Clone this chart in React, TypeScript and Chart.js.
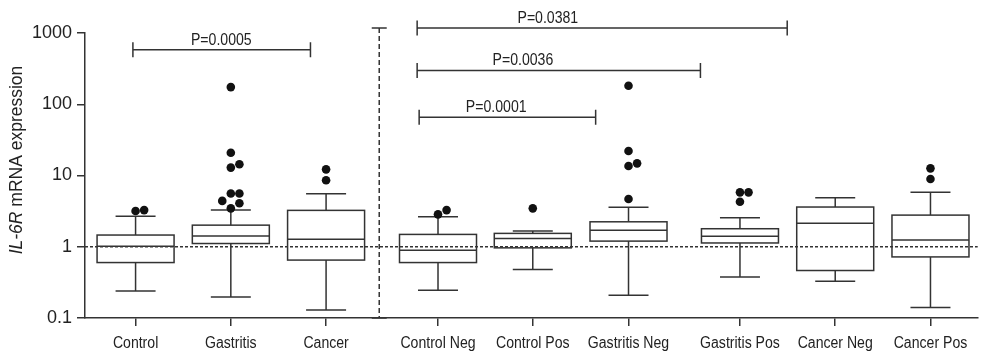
import React, { useEffect, useRef } from 'react';
import { Chart, registerables } from 'chart.js';

Chart.register(...registerables);

// ---- data ----
const categories = [
  'Control', 'Gastritis', 'Cancer',
  'Control Neg', 'Control Pos', 'Gastritis Neg', 'Gastritis Pos', 'Cancer Neg', 'Cancer Pos',
];
const categoryPositions = [1, 2, 3, 4.175, 5.17, 6.175, 7.345, 8.345, 9.345];
const whiskerLow = [0.24, 0.197, 0.13, 0.245, 0.48, 0.209, 0.377, 0.328, 0.14];
const quartile1 = [0.6, 1.11, 0.65, 0.6, 0.965, 1.2, 1.13, 0.464, 0.72];
const medians = [1.02, 1.41, 1.27, 0.896, 1.31, 1.71, 1.4, 2.13, 1.24];
const quartile3 = [1.46, 2.01, 3.24, 1.49, 1.54, 2.24, 1.79, 3.61, 2.78];
const whiskerHigh = [2.69, 3.27, 5.55, 2.63, 1.67, 3.57, 2.55, 4.87, 5.8];
const outliers = [
  [3.17, 3.27],
  [3.46, 4.07, 4.4, 5.6, 5.6, 12.9, 14.4, 20.9, 174],
  [8.56, 12.2],
  [2.85, 3.27],
  [3.46],
  [4.67, 13.6, 14.8, 22.1, 181.5],
  [4.28, 5.8, 5.8],
  [],
  [8.93, 12.6],
];
const yTickValues = [0.1, 1, 10, 100, 1000];
const referenceLevel = 1;
const separatorAt = 3.558;
const separatorTop = 1175;

const pLabels = ['P=0.0005', 'P=0.0001', 'P=0.0036', 'P=0.0381'];
const pFrom = [0.972, 3.977, 3.956, 3.956];
const pTo = [2.836, 5.83, 6.93, 7.841];
const pLevel = [582, 65.9, 298, 1175];
const pTextAt = [1.9, 4.786, 5.066, 5.328];

// ---- style ----
const FONT = "'Liberation Sans', Arial, Helvetica, sans-serif";
const INK = '#333333';
const TEXT = '#222222';
const BOX_W = 77;
const CAP_W = 40;
const DODGE_STEP = 0.09;
const DODGE_LOG = 0.1125;
const CONDENSE = 0.88;

function dodge(values: number[], pos: number) {
  const placed: { k: number; lv: number }[] = [];
  const out: { x: number; y: number }[] = [];
  [...values].sort((a, b) => a - b).forEach((v) => {
    const lv = Math.log10(v);
    for (const k of [0, 1, -1, 2, -2]) {
      if (!placed.some((p) => p.k === k && Math.abs(p.lv - lv) < DODGE_LOG)) {
        placed.push({ k, lv });
        out.push({ x: pos + k * DODGE_STEP, y: v });
        break;
      }
    }
  });
  return out;
}

function condensedText(ctx: CanvasRenderingContext2D, text: string, cx: number, baseline: number) {
  ctx.save();
  ctx.translate(cx, baseline);
  ctx.scale(CONDENSE, 1);
  ctx.textAlign = 'center';
  ctx.textBaseline = 'alphabetic';
  ctx.fillText(text, 0, 0);
  ctx.restore();
}

const boxPlugin = {
  id: 'boxPlot',
  beforeDatasetsDraw(chart: any) {
    const { ctx, chartArea, scales } = chart;
    const x = scales.x;
    const y = scales.y;
    ctx.save();
    ctx.strokeStyle = INK;
    ctx.lineWidth = 1.5;

    // reference dotted line
    const yr = y.getPixelForValue(referenceLevel);
    ctx.setLineDash([3, 2]);
    ctx.beginPath();
    ctx.moveTo(chartArea.left, yr);
    ctx.lineTo(chartArea.right, yr);
    ctx.stroke();

    // separator
    const sx = x.getPixelForValue(separatorAt);
    const sTop = y.getPixelForValue(separatorTop);
    const sBot = y.getPixelForValue(yTickValues[0]);
    ctx.setLineDash([5, 3]);
    ctx.beginPath();
    ctx.moveTo(sx, sTop);
    ctx.lineTo(sx, sBot);
    ctx.stroke();
    ctx.setLineDash([]);
    ctx.beginPath();
    ctx.moveTo(sx - 7.5, sTop);
    ctx.lineTo(sx + 7.5, sTop);
    ctx.moveTo(sx - 7.5, sBot);
    ctx.lineTo(sx + 7.5, sBot);
    ctx.stroke();

    // boxes
    categoryPositions.forEach((pos, i) => {
      const cx = x.getPixelForValue(pos);
      const yLo = y.getPixelForValue(whiskerLow[i]);
      const yQ1 = y.getPixelForValue(quartile1[i]);
      const yMed = y.getPixelForValue(medians[i]);
      const yQ3 = y.getPixelForValue(quartile3[i]);
      const yHi = y.getPixelForValue(whiskerHigh[i]);
      ctx.strokeRect(cx - BOX_W / 2, yQ3, BOX_W, yQ1 - yQ3);
      ctx.beginPath();
      ctx.moveTo(cx - BOX_W / 2, yMed);
      ctx.lineTo(cx + BOX_W / 2, yMed);
      ctx.moveTo(cx, yQ3);
      ctx.lineTo(cx, yHi);
      ctx.moveTo(cx, yQ1);
      ctx.lineTo(cx, yLo);
      ctx.moveTo(cx - CAP_W / 2, yHi);
      ctx.lineTo(cx + CAP_W / 2, yHi);
      ctx.moveTo(cx - CAP_W / 2, yLo);
      ctx.lineTo(cx + CAP_W / 2, yLo);
      ctx.stroke();
    });

    // comparison brackets
    ctx.font = `16px ${FONT}`;
    ctx.fillStyle = TEXT;
    pLabels.forEach((label, i) => {
      const x0 = x.getPixelForValue(pFrom[i]);
      const x1 = x.getPixelForValue(pTo[i]);
      const yy = y.getPixelForValue(pLevel[i]);
      ctx.beginPath();
      ctx.moveTo(x0, yy);
      ctx.lineTo(x1, yy);
      ctx.moveTo(x0, yy - 7.5);
      ctx.lineTo(x0, yy + 7.5);
      ctx.moveTo(x1, yy - 7.5);
      ctx.lineTo(x1, yy + 7.5);
      ctx.stroke();
      condensedText(ctx, label, x.getPixelForValue(pTextAt[i]), yy - 5);
    });

    // category labels under the x axis
    ctx.font = `16px ${FONT}`;
    categoryPositions.forEach((pos, i) => {
      condensedText(ctx, categories[i], x.getPixelForValue(pos), chartArea.bottom + 30);
    });

    // y-axis title with italic gene name
    ctx.translate(17.5, 160);
    ctx.rotate(-Math.PI / 2);
    ctx.textBaseline = 'middle';
    ctx.textAlign = 'left';
    const italicPart = 'IL-6R';
    const normalPart = ' mRNA expression';
    ctx.font = `italic 17.5px ${FONT}`;
    const w1 = ctx.measureText(italicPart).width;
    ctx.font = `17.5px ${FONT}`;
    const w2 = ctx.measureText(normalPart).width;
    const start = -(w1 + w2) / 2;
    ctx.font = `italic 17.5px ${FONT}`;
    ctx.fillText(italicPart, start, 0);
    ctx.font = `17.5px ${FONT}`;
    ctx.fillText(normalPart, start + w1, 0);
    ctx.restore();
  },
};

export default function App() {
  const canvasRef = useRef<HTMLCanvasElement>(null);

  useEffect(() => {
    document.body.style.margin = '0';
    const canvas = canvasRef.current;
    if (!canvas) return;
    const points = categoryPositions.flatMap((pos, i) => dodge(outliers[i], pos));
    const chart = new Chart(canvas, {
      type: 'scatter',
      data: {
        datasets: [
          {
            data: points,
            pointRadius: 4.3,
            pointHoverRadius: 4.3,
            backgroundColor: '#111111',
            borderWidth: 0,
          },
        ],
      },
      options: {
        responsive: false,
        animation: false,
        devicePixelRatio: 1,
        layout: { padding: { top: 33, right: 2, left: 0, bottom: 0 } },
        plugins: { legend: { display: false }, tooltip: { enabled: false } },
        scales: {
          x: {
            type: 'linear',
            min: 0.4691,
            max: 9.8408,
            afterBuildTicks: (scale: any) => {
              scale.ticks = categoryPositions.map((v) => ({ value: v }));
            },
            afterFit: (scale: any) => {
              scale.height = 34;
            },
            grid: {
              display: true,
              drawOnChartArea: false,
              drawTicks: true,
              tickLength: 8,
              color: INK,
              lineWidth: 1.5,
            },
            border: { display: true, color: INK, width: 1.5 },
            ticks: {
              display: false,
              autoSkip: false,
              maxRotation: 0,
              minRotation: 0,
            },
          },
          y: {
            type: 'logarithmic',
            min: 0.1,
            max: 1000,
            afterBuildTicks: (scale: any) => {
              scale.ticks = yTickValues.map((v) => ({ value: v }));
            },
            afterFit: (scale: any) => {
              scale.width = 85;
            },
            grid: {
              display: true,
              drawOnChartArea: false,
              drawTicks: true,
              tickLength: 8,
              color: INK,
              lineWidth: 1.5,
            },
            border: { display: true, color: INK, width: 1.5 },
            ticks: {
              autoSkip: false,
              padding: 5,
              color: TEXT,
              font: { family: FONT, size: 18 },
              callback: (value: any) => String(value),
            },
          },
        },
      },
      plugins: [boxPlugin],
    });
    return () => chart.destroy();
  }, []);

  return (
    <div style={{ width: 982, height: 352 }}>
      <canvas ref={canvasRef} width={982} height={352} style={{ display: 'block', width: 982, height: 352 }} />
    </div>
  );
}
